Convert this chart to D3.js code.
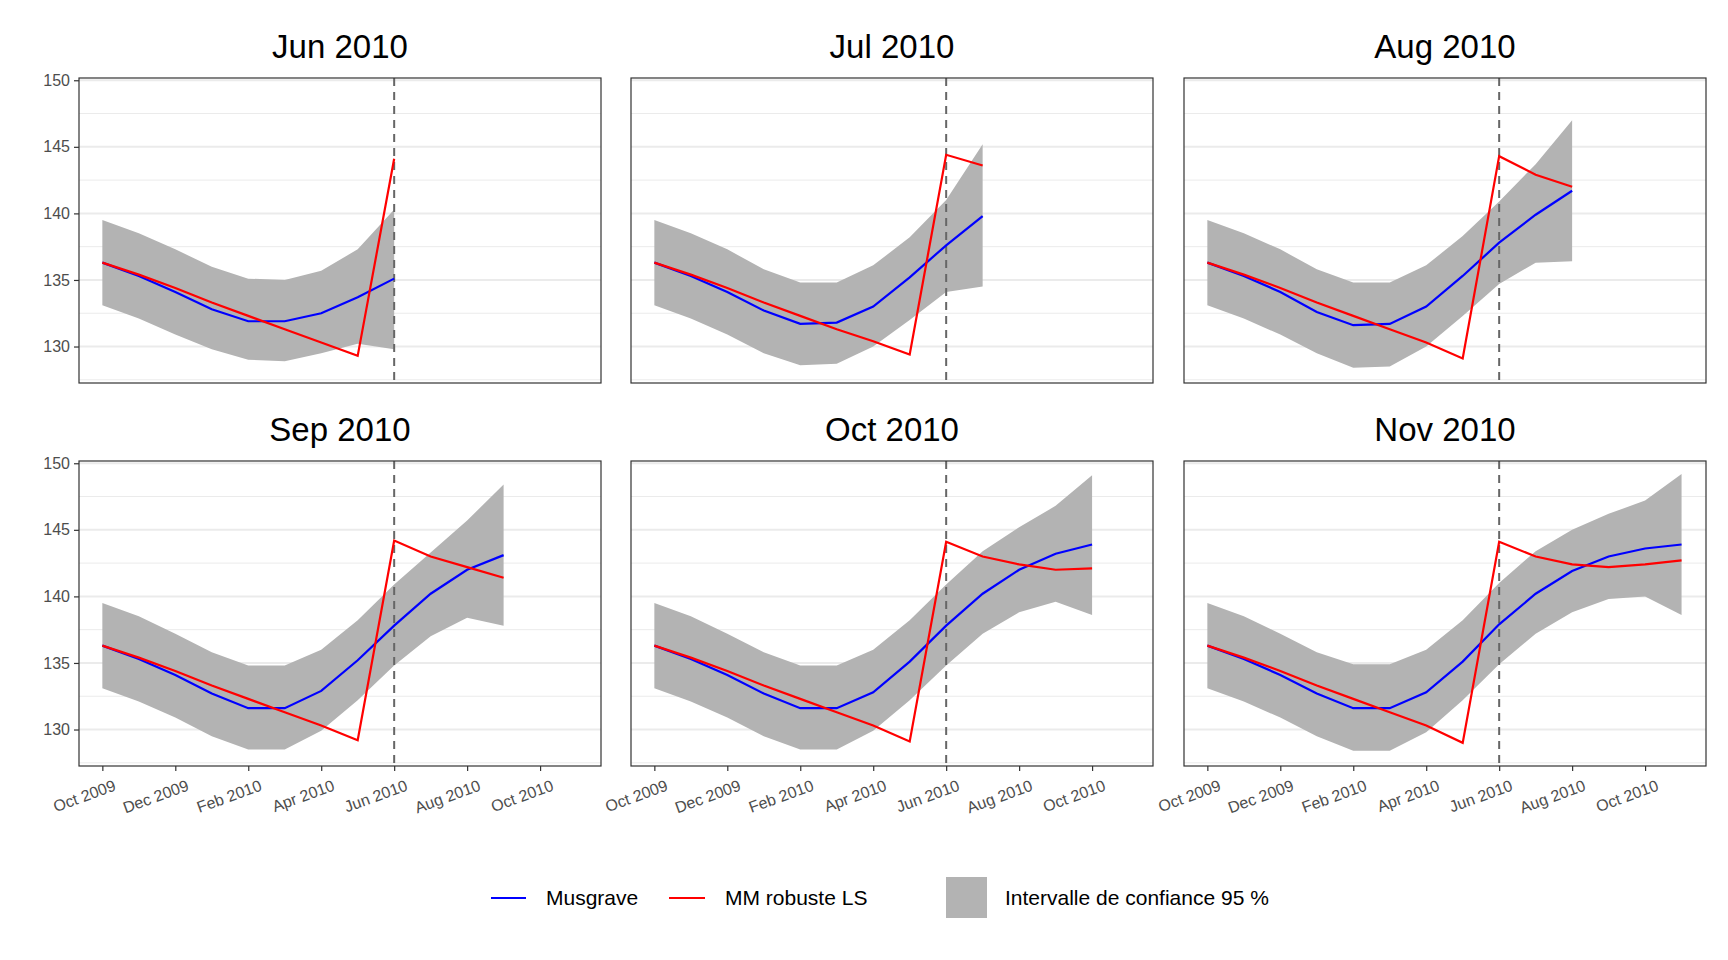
<!DOCTYPE html>
<html><head><meta charset="utf-8">
<script src="https://cdn.jsdelivr.net/npm/d3@7"></script>
<style>body{margin:0;background:#fff}svg{font-family:Arial,"Liberation Sans",sans-serif}</style>
</head><body><svg id="c" width="1728" height="960"></svg>
<script>
// month labels, index 0 = Oct 2009
const months = ["Oct 2009","Nov 2009","Dec 2009","Jan 2010","Feb 2010","Mar 2010","Apr 2010","May 2010","Jun 2010","Jul 2010","Aug 2010","Sep 2010","Oct 2010","Nov 2010"];
const tickIdx = [0,2,4,6,8,10,12];
const titles = ["Jun 2010","Jul 2010","Aug 2010","Sep 2010","Oct 2010","Nov 2010"];
const cutIdx = 8;

const musgrave = [
  [136.3,135.3,134.1,132.8,131.9,131.9,132.5,133.7,135.1],
  [136.3,135.3,134.1,132.7,131.7,131.8,133.0,135.2,137.6,139.8],
  [136.3,135.3,134.1,132.6,131.6,131.7,133.0,135.3,137.8,139.9,141.7],
  [136.3,135.3,134.1,132.7,131.6,131.6,132.9,135.2,137.8,140.2,142.0,143.1],
  [136.3,135.3,134.1,132.7,131.6,131.6,132.8,135.1,137.8,140.2,142.0,143.2,143.9],
  [136.3,135.3,134.1,132.7,131.6,131.6,132.8,135.1,137.9,140.2,141.9,143.0,143.6,143.9]
];
const mmRobust = [
  [136.3,135.4,134.4,133.3,132.3,131.3,130.3,129.3,144.1],
  [136.3,135.4,134.4,133.3,132.3,131.3,130.4,129.4,144.4,143.6],
  [136.3,135.4,134.4,133.3,132.3,131.3,130.3,129.1,144.3,142.9,142.0],
  [136.3,135.4,134.4,133.3,132.3,131.3,130.3,129.2,144.2,143.0,142.2,141.4],
  [136.3,135.4,134.4,133.3,132.3,131.3,130.3,129.1,144.1,143.0,142.4,142.0,142.1],
  [136.3,135.4,134.4,133.3,132.3,131.3,130.3,129.0,144.1,143.0,142.4,142.2,142.4,142.7]
];
const ciUpper = [
  [139.5,138.5,137.3,136.0,135.1,135.0,135.7,137.3,140.3],
  [139.5,138.5,137.3,135.8,134.8,134.8,136.1,138.2,141.0,145.2],
  [139.5,138.5,137.3,135.8,134.8,134.8,136.1,138.3,140.9,143.7,147.0],
  [139.5,138.5,137.2,135.8,134.8,134.8,136.0,138.2,140.9,143.3,145.7,148.4],
  [139.5,138.5,137.2,135.8,134.8,134.8,136.0,138.2,140.9,143.4,145.2,146.8,149.1],
  [139.5,138.5,137.2,135.8,134.9,134.9,136.0,138.2,141.0,143.4,145.0,146.2,147.2,149.2]
];
const ciLower = [
  [133.1,132.1,130.9,129.8,129.0,128.9,129.5,130.2,129.8],
  [133.1,132.1,130.9,129.5,128.6,128.7,130.0,132.0,134.1,134.5],
  [133.1,132.1,130.9,129.5,128.4,128.5,130.0,132.3,134.7,136.3,136.4],
  [133.1,132.1,130.9,129.5,128.5,128.5,129.9,132.2,134.8,137.0,138.4,137.8],
  [133.1,132.1,130.9,129.5,128.5,128.5,129.9,132.2,134.8,137.2,138.8,139.6,138.6],
  [133.1,132.1,130.9,129.5,128.4,128.4,129.8,132.2,134.9,137.2,138.8,139.8,140.0,138.6]
];

const svg = d3.select("#c");
const pw = 522, ph = 305;
const lefts = [79, 631, 1184], tops = [78, 461];

const x = d3.scaleLinear().domain([-0.64, 13.67]).range([0, pw]);
const y = d3.scaleLinear().domain([127.26, 150.17]).range([ph, 0]);

titles.forEach((t, i) => {
  const col = i % 3, row = Math.floor(i / 3);
  const g = svg.append("g").attr("transform", `translate(${lefts[col]},${tops[row]})`);

  // grid
  g.selectAll(".minor").data([127.5,132.5,137.5,142.5,147.5]).enter().append("line")
    .attr("x1", 0).attr("x2", pw).attr("y1", d => y(d)).attr("y2", d => y(d))
    .attr("stroke", "#ebebeb").attr("stroke-width", 1);
  g.selectAll(".major").data([130,135,140,145,150]).enter().append("line")
    .attr("x1", 0).attr("x2", pw).attr("y1", d => y(d)).attr("y2", d => y(d))
    .attr("stroke", "#ebebeb").attr("stroke-width", 2);

  const idx = d3.range(musgrave[i].length);
  g.append("path").datum(idx).attr("fill", "#b3b3b3")
    .attr("d", d3.area().x(k => x(k)).y0(k => y(ciLower[i][k])).y1(k => y(ciUpper[i][k])));

  g.append("line").attr("x1", x(cutIdx)).attr("x2", x(cutIdx)).attr("y1", 0).attr("y2", ph)
    .attr("stroke", "#666").attr("stroke-width", 2).attr("stroke-dasharray", "8,6");

  g.append("path").datum(musgrave[i]).attr("fill", "none").attr("stroke", "#0000ff").attr("stroke-width", 2.2)
    .attr("d", d3.line().x((d, k) => x(k)).y(d => y(d)));
  g.append("path").datum(mmRobust[i]).attr("fill", "none").attr("stroke", "#ff0000").attr("stroke-width", 2.2)
    .attr("d", d3.line().x((d, k) => x(k)).y(d => y(d)));

  g.append("rect").attr("width", pw).attr("height", ph).attr("fill", "none").attr("stroke", "#333").attr("stroke-width", 1.2);

  g.append("text").attr("x", pw / 2).attr("y", -20).attr("text-anchor", "middle")
    .attr("font-size", 33).attr("fill", "#000").text(t);

  if (col === 0) {
    const ya = g.append("g").call(d3.axisLeft(y).tickValues([130,135,140,145,150]).tickSize(5).tickPadding(4));
    ya.select(".domain").remove();
    ya.selectAll("line").attr("stroke", "#333").attr("stroke-width", 1.2);
    ya.selectAll("text").attr("font-size", 16).attr("fill", "#4d4d4d").attr("font-family", "Arial, Liberation Sans, sans-serif");
  }
  if (row === 1) {
    const xa = g.append("g").attr("transform", `translate(0,${ph})`)
      .call(d3.axisBottom(x).tickValues(tickIdx).tickFormat(k => months[k]).tickSize(5).tickPadding(4));
    xa.select(".domain").remove();
    xa.selectAll("line").attr("stroke", "#333").attr("stroke-width", 1.2);
    xa.selectAll("text").attr("font-size", 16).attr("fill", "#4d4d4d").attr("font-family", "Arial, Liberation Sans, sans-serif")
      .attr("text-anchor", "end").attr("dy", "0.9em").attr("transform", "translate(6,2) rotate(-20)");
  }
});

// legend
const lg = svg.append("g").attr("transform", "translate(0,898)");
lg.append("line").attr("x1", 491).attr("x2", 526).attr("stroke", "#0000ff").attr("stroke-width", 2.2);
lg.append("text").attr("x", 546).attr("dy", "0.35em").attr("font-size", 21).text("Musgrave");
lg.append("line").attr("x1", 669).attr("x2", 705).attr("stroke", "#ff0000").attr("stroke-width", 2.2);
lg.append("text").attr("x", 725).attr("dy", "0.35em").attr("font-size", 21).text("MM robuste LS");
lg.append("rect").attr("x", 946).attr("y", -21).attr("width", 41).attr("height", 41).attr("fill", "#b3b3b3");
lg.append("text").attr("x", 1005).attr("dy", "0.35em").attr("font-size", 21).text("Intervalle de confiance 95 %");
</script></body></html>
